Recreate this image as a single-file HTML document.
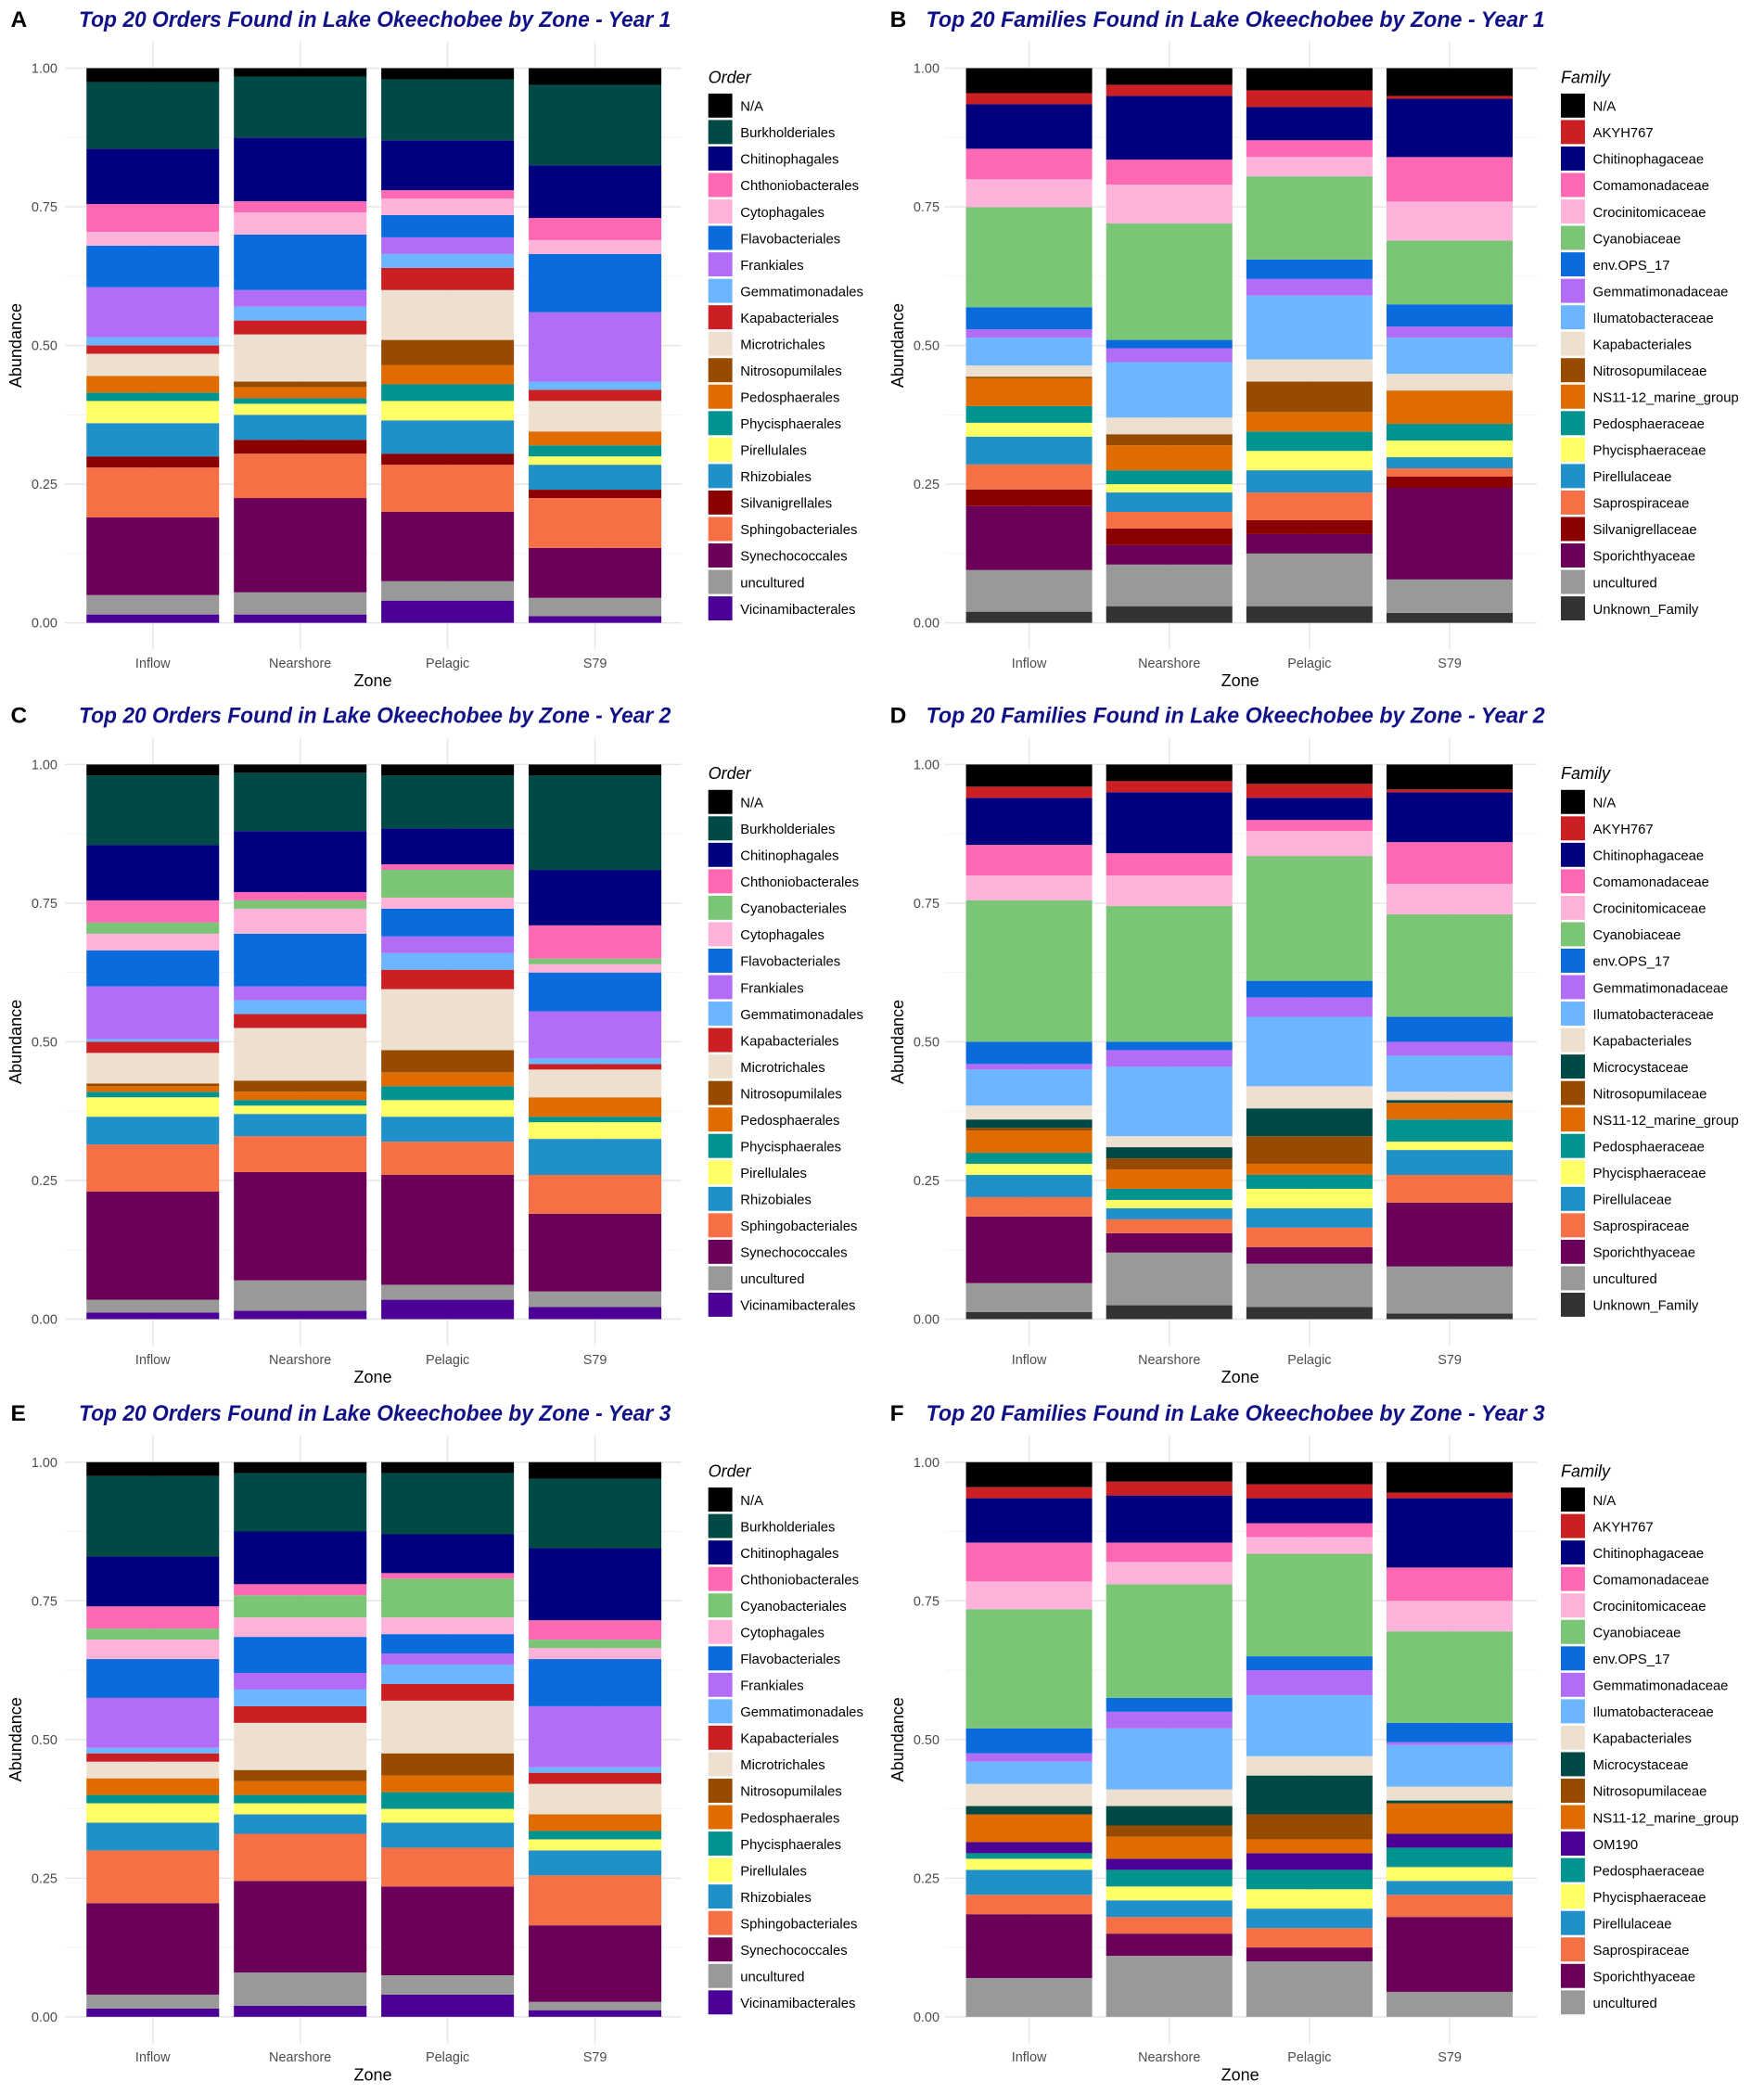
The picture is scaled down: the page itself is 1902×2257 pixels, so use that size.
<!DOCTYPE html>
<html><head><meta charset="utf-8">
<style>
html,body{margin:0;padding:0;background:#fff;}
svg{display:block;}
.tick{font-family:"Liberation Sans",sans-serif;font-size:10px;fill:#4d4d4d;}
.ttl{font-family:"Liberation Sans Narrow","Liberation Sans",sans-serif;font-size:16.5px;font-weight:bold;font-style:italic;fill:#111188;}
.lbl{font-family:"Liberation Sans",sans-serif;font-size:17px;font-weight:bold;fill:#000;}
.axt{font-family:"Liberation Sans",sans-serif;font-size:12.5px;fill:#000;}
.leg{font-family:"Liberation Sans",sans-serif;font-size:10.3px;fill:#000;}
.legt{font-family:"Liberation Sans",sans-serif;font-size:12.5px;font-style:italic;fill:#000;}
</style></head>
<body>
<svg id="chart" xmlns="http://www.w3.org/2000/svg" width="1902" height="2257" viewBox="0 0 1320 1566" preserveAspectRatio="none"></svg>
<script>
const zones = ["Inflow","Nearshore","Pelagic","S79"];
const yTicks = [0, 0.25, 0.5, 0.75, 1];
const yTickLabels = ["0.00","0.25","0.50","0.75","1.00"];

const ordersY1 = ["Vicinamibacterales","uncultured","Synechococcales","Sphingobacteriales","Silvanigrellales","Rhizobiales","Pirellulales","Phycisphaerales","Pedosphaerales","Nitrosopumilales","Microtrichales","Kapabacteriales","Gemmatimonadales","Frankiales","Flavobacteriales","Cytophagales","Chthoniobacterales","Chitinophagales","Burkholderiales","N/A"];
const ordersY23 = ["Vicinamibacterales","uncultured","Synechococcales","Sphingobacteriales","Rhizobiales","Pirellulales","Phycisphaerales","Pedosphaerales","Nitrosopumilales","Microtrichales","Kapabacteriales","Gemmatimonadales","Frankiales","Flavobacteriales","Cytophagales","Cyanobacteriales","Chthoniobacterales","Chitinophagales","Burkholderiales","N/A"];
const familiesY1 = ["Unknown_Family","uncultured","Sporichthyaceae","Silvanigrellaceae","Saprospiraceae","Pirellulaceae","Phycisphaeraceae","Pedosphaeraceae","NS11-12_marine_group","Nitrosopumilaceae","Kapabacteriales","Ilumatobacteraceae","Gemmatimonadaceae","env.OPS_17","Cyanobiaceae","Crocinitomicaceae","Comamonadaceae","Chitinophagaceae","AKYH767","N/A"];
const familiesY2 = ["Unknown_Family","uncultured","Sporichthyaceae","Saprospiraceae","Pirellulaceae","Phycisphaeraceae","Pedosphaeraceae","NS11-12_marine_group","Nitrosopumilaceae","Microcystaceae","Kapabacteriales","Ilumatobacteraceae","Gemmatimonadaceae","env.OPS_17","Cyanobiaceae","Crocinitomicaceae","Comamonadaceae","Chitinophagaceae","AKYH767","N/A"];
const familiesY3 = ["uncultured","Sporichthyaceae","Saprospiraceae","Pirellulaceae","Phycisphaeraceae","Pedosphaeraceae","OM190","NS11-12_marine_group","Nitrosopumilaceae","Microcystaceae","Kapabacteriales","Ilumatobacteraceae","Gemmatimonadaceae","env.OPS_17","Cyanobiaceae","Crocinitomicaceae","Comamonadaceae","Chitinophagaceae","AKYH767","N/A"];

// values bottom-to-top, one array per zone
const A_inflow = [0.015,0.035,0.14,0.09,0.02,0.06,0.04,0.015,0.03,0.0,0.04,0.015,0.015,0.09,0.075,0.025,0.05,0.10,0.12,0.025];
const A_near   = [0.015,0.04,0.17,0.08,0.025,0.045,0.02,0.01,0.02,0.01,0.085,0.025,0.025,0.03,0.10,0.04,0.02,0.115,0.11,0.015];
const A_pel    = [0.04,0.035,0.125,0.085,0.02,0.06,0.035,0.03,0.035,0.045,0.09,0.04,0.025,0.03,0.04,0.03,0.015,0.09,0.11,0.02];
const A_s79    = [0.012,0.033,0.09,0.09,0.015,0.045,0.015,0.02,0.025,0,0.055,0.02,0.015,0.125,0.105,0.025,0.04,0.095,0.145,0.03];

const B_inflow = [0.02,0.075,0.115,0.03,0.045,0.05,0.025,0.03,0.05,0.003,0.02,0.05,0.015,0.04,0.18,0.05,0.055,0.08,0.02,0.045];
const B_near   = [0.03,0.075,0.035,0.03,0.03,0.035,0.015,0.025,0.045,0.02,0.03,0.10,0.025,0.015,0.21,0.07,0.045,0.115,0.02,0.03];
const B_pel    = [0.03,0.095,0.035,0.025,0.05,0.04,0.035,0.035,0.035,0.055,0.04,0.115,0.03,0.035,0.15,0.035,0.03,0.06,0.03,0.04];
const B_s79    = [0.018,0.06,0.165,0.02,0.015,0.02,0.03,0.03,0.06,0,0.03,0.065,0.02,0.04,0.115,0.07,0.08,0.105,0.005,0.05];

const C_inflow = [0.012,0.023,0.195,0.085,0.05,0.035,0.01,0.01,0.005,0.055,0.02,0.005,0.095,0.065,0.03,0.02,0.04,0.10,0.125,0.02];
const C_near   = [0.015,0.055,0.195,0.065,0.04,0.015,0.01,0.015,0.02,0.095,0.025,0.025,0.025,0.095,0.045,0.015,0.015,0.11,0.105,0.015];
const C_pel    = [0.035,0.027,0.198,0.06,0.045,0.03,0.025,0.025,0.04,0.11,0.035,0.03,0.03,0.05,0.02,0.05,0.01,0.065,0.095,0.02];
const C_s79    = [0.022,0.028,0.14,0.07,0.065,0.03,0.01,0.035,0,0.05,0.01,0.01,0.085,0.07,0.015,0.01,0.06,0.10,0.17,0.02];

const D_inflow = [0.013,0.052,0.12,0.035,0.04,0.02,0.02,0.04,0.005,0.015,0.025,0.065,0.01,0.04,0.255,0.045,0.055,0.085,0.02,0.04];
const D_near   = [0.025,0.095,0.035,0.025,0.02,0.015,0.02,0.035,0.02,0.02,0.02,0.125,0.03,0.015,0.245,0.055,0.04,0.11,0.02,0.03];
const D_pel    = [0.022,0.078,0.03,0.035,0.035,0.035,0.025,0.02,0.05,0.05,0.04,0.125,0.035,0.03,0.225,0.045,0.02,0.04,0.025,0.035];
const D_s79    = [0.01,0.085,0.115,0.05,0.045,0.015,0.04,0.03,0,0.005,0.015,0.065,0.025,0.045,0.185,0.055,0.075,0.09,0.005,0.045];

const E_inflow = [0.015,0.025,0.165,0.095,0.05,0.035,0.015,0.03,0,0.03,0.015,0.01,0.09,0.07,0.035,0.02,0.04,0.09,0.145,0.025];
const E_near   = [0.02,0.06,0.165,0.085,0.035,0.02,0.015,0.025,0.02,0.085,0.03,0.03,0.03,0.065,0.035,0.04,0.02,0.095,0.105,0.02];
const E_pel    = [0.04,0.035,0.16,0.07,0.045,0.025,0.03,0.03,0.04,0.095,0.03,0.035,0.02,0.035,0.03,0.07,0.01,0.07,0.11,0.02];
const E_s79    = [0.012,0.015,0.138,0.09,0.045,0.02,0.015,0.03,0,0.055,0.02,0.01,0.11,0.085,0.02,0.015,0.035,0.13,0.125,0.03];

const F_inflow = [0.07,0.115,0.035,0.045,0.02,0.01,0.02,0.05,0,0.015,0.04,0.04,0.015,0.045,0.215,0.05,0.07,0.08,0.02,0.045];
const F_near   = [0.11,0.04,0.03,0.03,0.025,0.03,0.02,0.04,0.02,0.035,0.03,0.11,0.03,0.025,0.205,0.04,0.035,0.085,0.025,0.035];
const F_pel    = [0.10,0.025,0.035,0.035,0.035,0.035,0.03,0.025,0.045,0.07,0.035,0.11,0.045,0.025,0.185,0.03,0.025,0.045,0.025,0.04];
const F_s79    = [0.045,0.135,0.04,0.025,0.025,0.035,0.025,0.055,0,0.005,0.025,0.075,0.005,0.035,0.165,0.055,0.06,0.125,0.01,0.055];

const colors = {
 "N/A":"#000000","Burkholderiales":"#004a45","Chitinophagales":"#00007f","Chthoniobacterales":"#ff69b4",
 "Cyanobacteriales":"#7bc576","Cytophagales":"#ffb3db","Flavobacteriales":"#0a6bdc","Frankiales":"#b36cf5",
 "Gemmatimonadales":"#6cb6ff","Kapabacteriales":"#cc1f24","Microtrichales":"#ede0d0","Nitrosopumilales":"#964b00",
 "Pedosphaerales":"#e06c00","Phycisphaerales":"#009490","Pirellulales":"#ffff66","Rhizobiales":"#2090c8",
 "Silvanigrellales":"#8b0000","Sphingobacteriales":"#f57045","Synechococcales":"#6a0058","uncultured":"#999999",
 "Vicinamibacterales":"#4b0096","AKYH767":"#cc1f24","Chitinophagaceae":"#00007f","Comamonadaceae":"#ff69b4",
 "Crocinitomicaceae":"#ffb3db","Cyanobiaceae":"#7bc576","env.OPS_17":"#0a6bdc","Gemmatimonadaceae":"#b36cf5",
 "Ilumatobacteraceae":"#6cb6ff","Kapabacteriales_f":"#ede0d0","Microcystaceae":"#004a45","Nitrosopumilaceae":"#964b00",
 "NS11-12_marine_group":"#e06c00","OM190":"#4b0096","Pedosphaeraceae":"#009490","Phycisphaeraceae":"#ffff66",
 "Pirellulaceae":"#2090c8","Saprospiraceae":"#f57045","Silvanigrellaceae":"#8b0000","Sporichthyaceae":"#6a0058",
 "Unknown_Family":"#333333"
};

const panels = [
 {id:"A",kind:"Order",title:"Top 20 Orders Found in Lake Okeechobee by Zone - Year 1",col:0,row:0,taxa:ordersY1,vals:[A_inflow,A_near,A_pel,A_s79]},
 {id:"B",kind:"Family",title:"Top 20 Families Found in Lake Okeechobee by Zone - Year 1",col:1,row:0,taxa:familiesY1,vals:[B_inflow,B_near,B_pel,B_s79]},
 {id:"C",kind:"Order",title:"Top 20 Orders Found in Lake Okeechobee by Zone - Year 2",col:0,row:1,taxa:ordersY23,vals:[C_inflow,C_near,C_pel,C_s79]},
 {id:"D",kind:"Family",title:"Top 20 Families Found in Lake Okeechobee by Zone - Year 2",col:1,row:1,taxa:familiesY2,vals:[D_inflow,D_near,D_pel,D_s79]},
 {id:"E",kind:"Order",title:"Top 20 Orders Found in Lake Okeechobee by Zone - Year 3",col:0,row:2,taxa:ordersY23,vals:[E_inflow,E_near,E_pel,E_s79]},
 {id:"F",kind:"Family",title:"Top 20 Families Found in Lake Okeechobee by Zone - Year 3",col:1,row:2,taxa:familiesY3,vals:[F_inflow,F_near,F_pel,F_s79]}
];

const NS="http://www.w3.org/2000/svg";
const svg=document.getElementById('chart');
function mk(tag,attrs,parent){const e=document.createElementNS(NS,tag);for(const k in attrs)e.setAttribute(k,attrs[k]);(parent||svg).appendChild(e);return e;}
function colorOf(kind,t){ if(kind==="Family"&&t==="Kapabacteriales") return colors["Kapabacteriales_f"]; return colors[t]; }

const colGeo=[{plotL:48.6,plotR:510,bandL:59.2,step:110.3,legX:530,tickX:43,axX:16,titleX:59,titleW:443,lblX:8,zoneX:279},
              {plotL:707,plotR:1150,bandL:717.6,step:104.9,legX:1168,tickX:703,axX:676,titleX:693,titleW:463,lblX:666,zoneX:928}];
const rowGeo=[{top:51,bot:466},{top:572,bot:987},{top:1094,bot:1509}];

panels.forEach(p=>{
 const cg=colGeo[p.col], rg=rowGeo[p.row];
 const g=mk('g',{});
 
 
 const y=v=>rg.bot-(rg.bot-rg.top)*v;
 const xc=i=>cg.bandL+cg.step*(i+0.5);
 const bw=cg.step*0.9;
 for(let k=0;k<4;k++){const v=0.125+0.25*k;const l=mk('line',{x1:cg.plotL,x2:cg.plotR,y1:y(v),y2:y(v),stroke:'#f2f2f2','stroke-width':0.6},g);
  }
 yTicks.forEach((v,k)=>{const l=mk('line',{x1:cg.plotL,x2:cg.plotR,y1:y(v),y2:y(v),stroke:'#e6e6e6','stroke-width':1},g);
  
  const t=mk('text',{x:cg.tickX,y:y(v)+3.5,'text-anchor':'end',class:'tick'},g);t.textContent=yTickLabels[k];
  });
 zones.forEach((z,i)=>{const l=mk('line',{x1:xc(i),x2:xc(i),y1:rg.top-20,y2:rg.bot+20,stroke:'#e6e6e6','stroke-width':1},g);
  
  const t=mk('text',{x:xc(i),y:rg.bot+33.5,'text-anchor':'middle',class:'tick'},g);t.textContent=z;
  });
 p.vals.forEach((arr,i)=>{
  const tot=arr.reduce((a,b)=>a+b,0);let cum=0;
  arr.forEach((v,j)=>{ if(v<=0) return; const y0=y(cum/tot); cum+=v; const y1=y(cum/tot);
   const r=mk('rect',{x:xc(i)-bw/2,y:y1,width:bw,height:y0-y1,fill:colorOf(p.kind,p.taxa[j])},g);
   
   
  });
 });
 const lb=mk('text',{x:cg.lblX,y:rg.top-31,class:'lbl'},g);lb.textContent=p.id;
 
 const tt=mk('text',{x:cg.titleX,y:rg.top-31,class:'ttl',textLength:cg.titleW,lengthAdjust:'spacingAndGlyphs'},g);tt.textContent=p.title;
 
 const zt=mk('text',{x:cg.zoneX,y:rg.bot+47.5,'text-anchor':'middle',class:'axt'},g);zt.textContent='Zone';
 
 const cy=(rg.top+rg.bot)/2;
 const at=mk('text',{x:cg.axX,y:cy,'text-anchor':'middle',class:'axt',transform:`rotate(-90 ${cg.axX} ${cy})`},g);at.textContent='Abundance';
 
 const lt=mk('text',{x:cg.legX,y:rg.top+11,class:'legt'},g);lt.textContent=p.kind;
 
 const legTaxa=p.taxa.slice().reverse();
 legTaxa.forEach((t,k)=>{
  const top=rg.top+19+k*19.8;
  const r=mk('rect',{x:cg.legX,y:top,width:18,height:18,fill:colorOf(p.kind,t)},g);
  
  const tx=mk('text',{x:cg.legX+24,y:top+13,class:'leg'},g);tx.textContent=t;
  
 });
});
</script>
</body></html>
